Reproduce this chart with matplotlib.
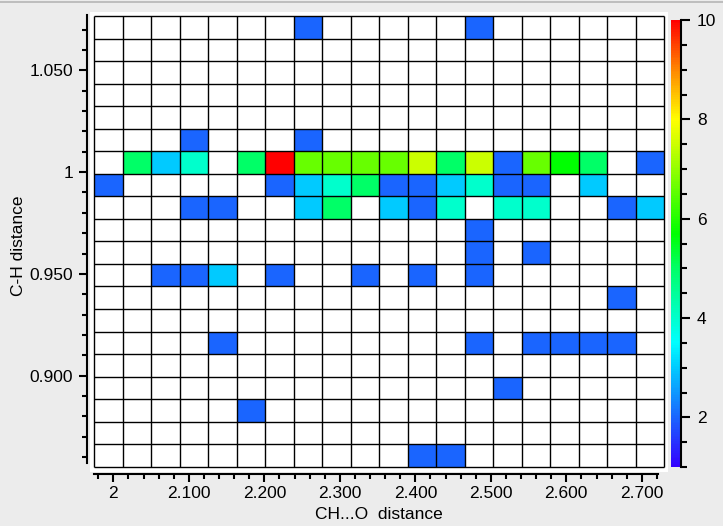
import numpy as np
import matplotlib
matplotlib.use("Agg")
import matplotlib.pyplot as plt
from matplotlib.colors import LinearSegmentedColormap, Normalize
from matplotlib.lines import Line2D

# bin layout of the 2D histogram
x_lo, x_hi = 1.9748, 2.7294
y_hi, y_lo = 1.0766, 0.8553
n_x, n_y = 20, 20

# counts, top row first (C-H high -> low), columns CH...O low -> high
counts = [
    [0, 0, 0, 0, 0, 0, 0, 2, 0, 0, 0, 0, 0, 2, 0, 0, 0, 0, 0, 0],
    [0, 0, 0, 0, 0, 0, 0, 0, 0, 0, 0, 0, 0, 0, 0, 0, 0, 0, 0, 0],
    [0, 0, 0, 0, 0, 0, 0, 0, 0, 0, 0, 0, 0, 0, 0, 0, 0, 0, 0, 0],
    [0, 0, 0, 0, 0, 0, 0, 0, 0, 0, 0, 0, 0, 0, 0, 0, 0, 0, 0, 0],
    [0, 0, 0, 0, 0, 0, 0, 0, 0, 0, 0, 0, 0, 0, 0, 0, 0, 0, 0, 0],
    [0, 0, 0, 2, 0, 0, 0, 2, 0, 0, 0, 0, 0, 0, 0, 0, 0, 0, 0, 0],
    [0, 5, 3, 4, 0, 5, 10, 6.6, 6.6, 6.6, 6.6, 7.5, 5, 7.5, 2, 6.6, 5.7, 5, 0, 2],
    [2, 0, 0, 0, 0, 0, 2, 3, 4, 5, 2, 2, 3, 4, 2, 2, 0, 3, 0, 0],
    [0, 0, 0, 2, 2, 0, 0, 3, 5, 0, 3, 2, 4, 0, 4, 4, 0, 0, 2, 3],
    [0, 0, 0, 0, 0, 0, 0, 0, 0, 0, 0, 0, 0, 2, 0, 0, 0, 0, 0, 0],
    [0, 0, 0, 0, 0, 0, 0, 0, 0, 0, 0, 0, 0, 2, 0, 2, 0, 0, 0, 0],
    [0, 0, 2, 2, 3, 0, 2, 0, 0, 2, 0, 2, 0, 2, 0, 0, 0, 0, 0, 0],
    [0, 0, 0, 0, 0, 0, 0, 0, 0, 0, 0, 0, 0, 0, 0, 0, 0, 0, 2, 0],
    [0, 0, 0, 0, 0, 0, 0, 0, 0, 0, 0, 0, 0, 0, 0, 0, 0, 0, 0, 0],
    [0, 0, 0, 0, 2, 0, 0, 0, 0, 0, 0, 0, 0, 2, 0, 2, 2, 2, 2, 0],
    [0, 0, 0, 0, 0, 0, 0, 0, 0, 0, 0, 0, 0, 0, 0, 0, 0, 0, 0, 0],
    [0, 0, 0, 0, 0, 0, 0, 0, 0, 0, 0, 0, 0, 0, 2, 0, 0, 0, 0, 0],
    [0, 0, 0, 0, 0, 2, 0, 0, 0, 0, 0, 0, 0, 0, 0, 0, 0, 0, 0, 0],
    [0, 0, 0, 0, 0, 0, 0, 0, 0, 0, 0, 0, 0, 0, 0, 0, 0, 0, 0, 0],
    [0, 0, 0, 0, 0, 0, 0, 0, 0, 0, 0, 2, 2, 0, 0, 0, 0, 0, 0, 0],
]

x_ticks = [2.0, 2.1, 2.2, 2.3, 2.4, 2.5, 2.6, 2.7]
x_labels = ["2", "2.100", "2.200", "2.300", "2.400", "2.500", "2.600", "2.700"]
y_ticks = [0.90, 0.95, 1.00, 1.05]
y_labels = ["0.900", "0.950", "1", "1.050"]
cb_ticks = [2, 4, 6, 8, 10]

# rainbow scale 1..10
vmin, vmax = 1, 10
anchors = [(1.0, "#3300ff"), (2.0, "#1a66ff"), (3.0, "#00ccff"), (3.5, "#00ffff"),
           (4.0, "#00ffcc"), (5.0, "#00ff66"), (5.7, "#00ff00"), (6.6, "#66ff00"),
           (7.5, "#ccff00"), (8.0, "#ffff00"), (9.0, "#ff8800"), (10.0, "#ff0000")]
cmap = LinearSegmentedColormap.from_list(
    "igor_rainbow", [((v - vmin) / (vmax - vmin), c) for v, c in anchors])
cmap.set_bad("white")

x_edges = np.linspace(x_lo, x_hi, n_x + 1)
y_edges = np.linspace(y_hi, y_lo, n_y + 1)
Z = np.ma.masked_equal(np.array(counts, dtype=float), 0)

plt.rcParams["font.family"] = ["Liberation Sans", "DejaVu Sans"]
fs = 12.5

fig = plt.figure(figsize=(7.23, 5.26), dpi=100, facecolor="#ececec")
ax = fig.add_axes([90 / 723, 1 - 472 / 526, 578 / 723, 460 / 526])
ax.set_facecolor("white")

mesh = ax.pcolormesh(x_edges, y_edges, Z, cmap=cmap, norm=Normalize(vmin, vmax),
                     edgecolors="none")
ax.vlines(x_edges, y_lo, y_hi, color="black", lw=1.0)
ax.hlines(y_edges, x_lo, x_hi, color="black", lw=1.0)

ax.set_xlim(1.9691, 2.7347)
ax.set_ylim(0.8527, 1.0786)

for s in ["top", "right"]:
    ax.spines[s].set_visible(False)
ax.spines["left"].set_position(("outward", 2.2))
ax.spines["bottom"].set_position(("outward", 1.1))
ax.spines["left"].set_bounds(0.857, 1.0772)
ax.spines["bottom"].set_bounds(1.9748, 2.722)
for s in ["left", "bottom"]:
    ax.spines[s].set_linewidth(1.5)

ax.set_xticks(x_ticks)
ax.set_xticklabels(x_labels)
ax.set_xticks(np.arange(1.98, 2.7201, 0.02), minor=True)
ax.set_yticks(y_ticks)
ax.set_yticklabels(y_labels)
ax.set_yticks(np.arange(0.86, 1.0701, 0.01), minor=True)
ax.tick_params(which="major", length=6, width=1.5, labelsize=fs)
ax.tick_params(which="minor", length=3.5, width=1.5)
ax.tick_params(axis="x", which="major", pad=3.2)
ax.tick_params(axis="y", which="major", pad=4)

fig.text(23 / 723, 1 - 246 / 526, "C-H distance", rotation=90,
         rotation_mode="anchor", ha="center", va="baseline", fontsize=fs)
fig.text(379 / 723, 1 - 519 / 526, "CH...O  distance",
         ha="center", va="baseline", fontsize=fs)

# colour scale
cax = fig.add_axes([671 / 723, 1 - 467 / 526, 10 / 723, 447 / 526])
cb = fig.colorbar(mesh, cax=cax)
cb.outline.set_visible(False)
cax.spines["right"].set_visible(True)
cax.spines["right"].set_linewidth(1.5)
cb.set_ticks(cb_ticks)
cax.set_yticks(np.arange(1, 10.01, 0.5), minor=True)
cax.tick_params(which="major", length=6.8, width=1.5, pad=4.8, labelsize=fs)
cax.tick_params(which="minor", length=4.2, width=1.5)

fig.add_artist(Line2D([0, 1], [1 - 1.5 / 526] * 2, color="#b5b5b5", lw=1.2))

fig.savefig("out.png", dpi=100, facecolor=fig.get_facecolor())
